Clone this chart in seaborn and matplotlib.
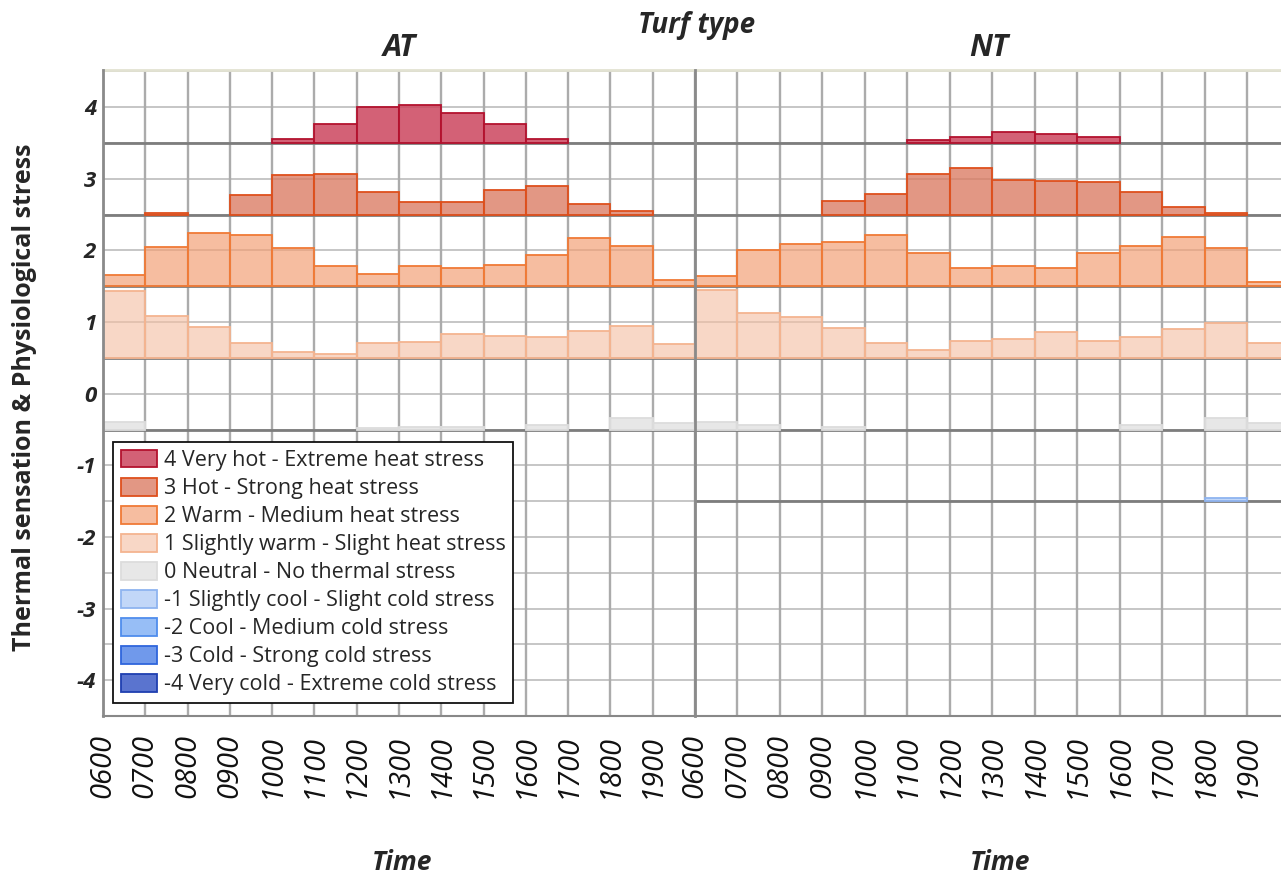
import numpy as np
import pandas as pd
import matplotlib
matplotlib.use("Agg")
import matplotlib.pyplot as plt
from matplotlib.patches import Patch
import seaborn as sns

# ---- data -------------------------------------------------------------
hours = list(range(6, 20))
tick_labels = [f"{h:02d}00" for h in hours]
turf_types = ["AT", "NT"]

levels = [4, 3, 2, 1, 0, -1, -2, -3, -4]
level_labels = [
    "4 Very hot - Extreme heat stress",
    "3 Hot - Strong heat stress",
    "2 Warm - Medium heat stress",
    "1 Slightly warm - Slight heat stress",
    "0 Neutral - No thermal stress",
    "-1 Slightly cool - Slight cold stress",
    "-2 Cool - Medium cold stress",
    "-3 Cold - Strong cold stress",
    "-4 Very cold - Extreme cold stress",
]

nan = np.nan
# AT turf: mean thermal sensation value per hour, for each stress class
at_level4 = [nan, nan, nan, nan, 3.56, 3.77, 4.01, 4.03, 3.92, 3.77, 3.56, nan, nan, nan]
at_level3 = [nan, 2.52, nan, 2.77, 3.05, 3.07, 2.82, 2.68, 2.68, 2.84, 2.90, 2.65, 2.55, nan]
at_level2 = [1.66, 2.05, 2.25, 2.21, 2.03, 1.79, 1.67, 1.79, 1.75, 1.80, 1.94, 2.17, 2.06, 1.59]
at_level1 = [1.43, 1.08, 0.93, 0.71, 0.58, 0.55, 0.71, 0.72, 0.84, 0.81, 0.79, 0.87, 0.95, 0.70]
at_level0 = [-0.39, nan, nan, nan, nan, nan, -0.48, -0.47, -0.47, nan, -0.43, nan, -0.34, -0.41]
at_levelm1 = [nan] * 14

# NT turf
nt_level4 = [nan, nan, nan, nan, nan, 3.54, 3.58, 3.66, 3.63, 3.58, nan, nan, nan, nan]
nt_level3 = [nan, nan, nan, 2.69, 2.79, 3.07, 3.15, 2.99, 2.97, 2.96, 2.82, 2.61, 2.53, nan]
nt_level2 = [1.64, 2.00, 2.09, 2.12, 2.21, 1.97, 1.75, 1.79, 1.76, 1.96, 2.06, 2.19, 2.03, 1.56]
nt_level1 = [1.45, 1.13, 1.07, 0.92, 0.71, 0.61, 0.73, 0.76, 0.86, 0.74, 0.79, 0.90, 0.99, 0.71]
nt_level0 = [-0.39, -0.44, nan, -0.47, nan, nan, nan, nan, nan, nan, -0.44, nan, -0.34, -0.41]
nt_levelm1 = [nan, nan, nan, nan, nan, nan, nan, nan, nan, nan, nan, nan, -1.46, nan]

panel_series = {
    "AT": {4: at_level4, 3: at_level3, 2: at_level2, 1: at_level1, 0: at_level0, -1: at_levelm1},
    "NT": {4: nt_level4, 3: nt_level3, 2: nt_level2, 1: nt_level1, 0: nt_level0, -1: nt_levelm1},
}

# fill / edge colours per class
fill_colors = {
    4: (0.80, 0.27, 0.37, 0.85),
    3: (0.86, 0.48, 0.38, 0.78),
    2: (0.95, 0.62, 0.45, 0.68),
    1: (0.96, 0.75, 0.64, 0.62),
    0: (0.88, 0.88, 0.88, 0.75),
    -1: (0.72, 0.82, 0.97, 0.85),
    -2: (0.52, 0.70, 0.96, 0.85),
    -3: (0.34, 0.53, 0.91, 0.85),
    -4: (0.24, 0.36, 0.78, 0.85),
}
edge_colors = {
    4: "#b3122e",
    3: "#de4f1c",
    2: "#f07a36",
    1: "#f4b490",
    0: "#dcdcdc",
    -1: "#8fb4f0",
    -2: "#4f8ded",
    -3: "#2f66dc",
    -4: "#1f3fb0",
}

# ---- figure -------------------------------------------------------------
sns.set_theme(style="white")
plt.rcParams["font.family"] = ["Open Sans", "DejaVu Sans"]

W, H = 1281, 880
fig = plt.figure(figsize=(W / 100, H / 100), dpi=100)

top_px, bottom_px = 70, 716
ax_at = fig.add_axes([103 / W, 1 - bottom_px / H, (695 - 103) / W, (bottom_px - top_px) / H])
ax_nt = fig.add_axes([695 / W, 1 - bottom_px / H, (W - 695) / W + 0.002, (bottom_px - top_px) / H],
                     sharey=ax_at)

xlims = {"AT": (6, 20), "NT": (6, 19.85)}

for ax, turf in zip([ax_at, ax_nt], turf_types):
    ax.set_axisbelow(True)
    # grid at every hour and every half unit
    for h in hours + [20]:
        ax.axvline(h, color="#ababab", lw=1.7, zorder=0.5)
    for y in np.arange(-4.5, 4.51, 0.5):
        ax.axhline(y, color="#c6c6c6", lw=1.4, zorder=0.4)

    for lvl, vals in panel_series[turf].items():
        base = lvl - 0.5
        df = pd.DataFrame({"hour": np.array(hours) + 0.5,
                           "height": np.array(vals, dtype=float) - base}).dropna()
        if df.empty:
            continue
        # class baseline
        ax.axhline(base, color="#7d7d7d", lw=2.0, zorder=0.6)
        sns.barplot(data=df, x="hour", y="height", native_scale=True, width=1,
                    bottom=base, errorbar=None, saturation=1,
                    facecolor=fill_colors[lvl], edgecolor=edge_colors[lvl],
                    linewidth=1.3, ax=ax, zorder=2)

    ax.set_xlim(*xlims[turf])
    ax.set_ylim(-4.5, 4.52)
    ax.set_xticks(hours)
    ax.set_xticklabels(tick_labels, rotation=90, fontstyle="italic", fontsize=21,
                       color="#111111")
    ax.set_xlabel("")
    ax.set_ylabel("")
    ax.tick_params(axis="x", direction="out", length=9, width=1.3, color="#777777", pad=4)
    ax.set_title(turf, fontsize=22, fontweight="bold", fontstyle="italic", pad=10)

    ax.spines["right"].set_visible(False)
    ax.spines["top"].set_color("#e2e2d2")
    ax.spines["top"].set_linewidth(2)
    ax.spines["bottom"].set_color("#888888")
    ax.spines["bottom"].set_linewidth(1.5)
    ax.spines["left"].set_color("#8a8a8a")
    ax.spines["left"].set_linewidth(2)
    ax.spines["left"].set_zorder(3)

ax_at.set_yticks(range(-4, 5))
ax_at.set_yticklabels([str(v) for v in range(-4, 5)], fontsize=16, fontweight="bold",
                      fontstyle="italic")
ax_at.tick_params(axis="y", length=0, pad=5)
ax_nt.tick_params(axis="y", length=0, labelleft=False)

# legend
handles = [Patch(facecolor=fill_colors[l], edgecolor=edge_colors[l], lw=1.3) for l in levels]
leg = ax_at.legend(handles, level_labels, loc="upper left",
                   bbox_to_anchor=(0.017, 0.424), borderaxespad=0,
                   fontsize=15.5, frameon=True, fancybox=False, framealpha=1,
                   handlelength=1.7, handleheight=0.9, handletextpad=0.3,
                   labelspacing=0.31, borderpad=0.35)
leg.get_frame().set_edgecolor("#111111")
leg.get_frame().set_linewidth(1.3)
leg.set_zorder(5)

# figure-level text
fig.text(697 / W, 1 - 25 / H, "Turf type", ha="center", va="center",
         fontsize=20, fontweight="bold", fontstyle="italic")
fig.text(25 / W, 1 - 397 / H, "Thermal sensation & Physiological stress", rotation=90,
         ha="center", va="center", fontsize=18, fontweight="bold")
fig.text(402 / W, 1 - 862 / H, "Time", ha="center", va="center",
         fontsize=19, fontweight="bold", fontstyle="italic")
fig.text(1000 / W, 1 - 862 / H, "Time", ha="center", va="center",
         fontsize=19, fontweight="bold", fontstyle="italic")

fig.savefig("out.png", dpi=100)
